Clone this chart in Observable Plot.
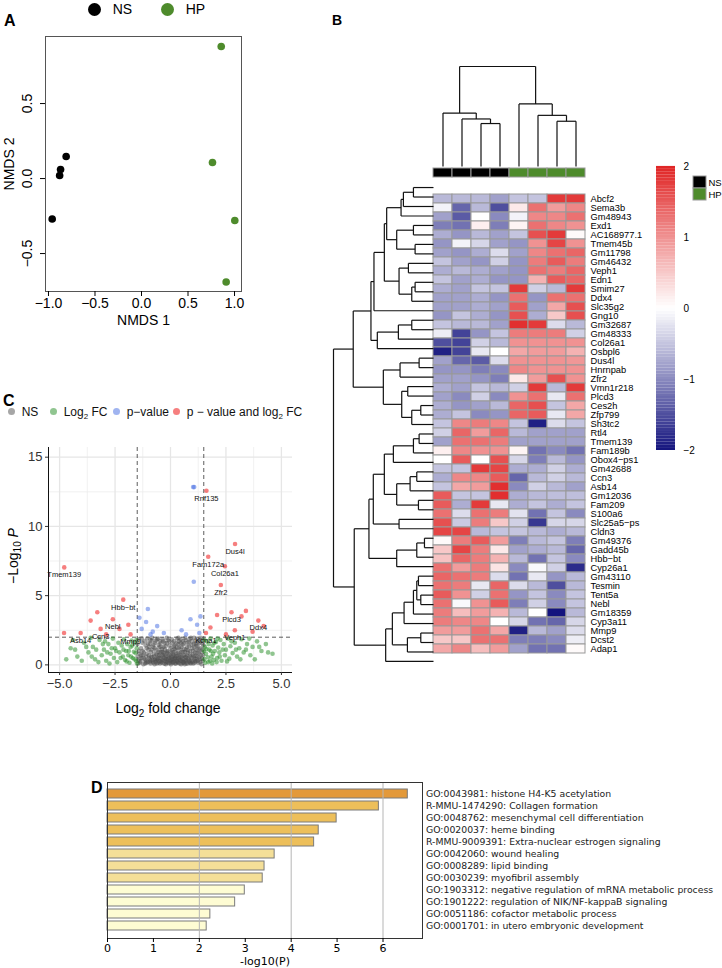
<!DOCTYPE html>
<html><head><meta charset="utf-8">
<script src="https://cdn.jsdelivr.net/npm/d3@7"></script>
<script src="https://cdn.jsdelivr.net/npm/@observablehq/plot@0.6"></script>
<style>
body{margin:0;background:#fff}
#fig{position:relative;width:722px;height:968px;overflow:hidden;font-family:"Liberation Sans",Arial,Helvetica,sans-serif;color:#000}
.abs{position:absolute;white-space:nowrap}
.plab{position:absolute;font-weight:bold;font-size:16px;font-family:"Liberation Sans",Arial,sans-serif}
.rot{position:absolute;white-space:nowrap;transform:translate(-50%,-50%) rotate(-90deg)}
.dot{display:inline-block;border-radius:50%}
</style>
</head><body><div id="fig"></div>
<script>
// ---------- Panel A data (NMDS) ----------
const nmdsGroup = ["NS","NS","NS","NS","HP","HP","HP","HP"];
const nmdsX = [-0.81,-0.87,-0.88,-0.96, 0.857,0.763,1.003,0.91];
const nmdsY = [0.147,0.06,0.02,-0.27, 0.88,0.107,-0.28,-0.69];

// ---------- Panel B data (heatmap) ----------
const samples = ["NS1","NS2","NS3","NS4","HP1","HP2","HP3","HP4"];
const sampleGroup = ["NS","NS","NS","NS","HP","HP","HP","HP"];
const genes = ["Abcf2","Sema3b","Gm48943","Exd1","AC168977.1","Tmem45b","Gm11798","Gm46432","Veph1","Edn1",
"Smim27","Ddx4","Slc35g2","Gng10","Gm32687","Gm48333","Col26a1","Osbpl6","Dus4l","Hnrnpab",
"Zfr2","Vmn1r218","Plcd3","Ces2h","Zfp799","Sh3tc2","Rtl4","Tmem139","Fam189b","Obox4\u2212ps1",
"Gm42688","Ccn3","Asb14","Gm12036","Fam209","S100a6","Slc25a5\u2212ps","Cldn3","Gm49376","Gadd45b",
"Hbb\u2212bt","Cyp26a1","Gm43110","Tesmin","Tent5a","Nebl","Gm18359","Cyp3a11","Mmp9","Dcst2","Adap1"];
const expr = [
[-0.6,-0.6,-0.6,-0.8,-0.5,-0.5,1.8,1.8],
[-0.1,-1.3,-0.6,-1.5,0.2,1.3,0.9,1.1],
[-0.8,-1.4,0.0,-1.0,-0.1,1.1,1.1,1.3],
[-1.1,-1.2,0.15,-1.1,0.1,1.3,1.1,1.0],
[-0.7,-0.9,-0.6,-0.8,-0.5,1.6,1.8,0.05],
[-0.9,-0.1,-0.35,-0.8,-0.9,1.0,1.7,1.0],
[-0.8,-0.9,-0.7,-0.3,-0.8,1.1,1.3,1.4],
[-0.5,-0.8,-0.9,-0.4,-0.9,1.2,1.5,1.2],
[-0.7,-0.6,-0.7,-0.8,-0.9,1.3,1.2,1.4],
[-0.5,-0.8,-0.7,-0.9,-0.9,0.7,1.5,1.4],
[-0.7,-0.8,-0.5,-0.5,1.8,-0.4,-0.6,1.8],
[-0.8,-0.8,-0.7,-0.9,1.3,-0.9,1.3,1.3],
[-0.8,-0.8,-0.7,-0.8,1.5,-0.8,0.8,1.6],
[-0.9,-0.5,-0.7,-0.9,1.6,-0.7,0.5,1.6],
[-0.5,-0.6,-0.6,-0.8,1.9,1.8,-0.3,-0.6],
[-0.15,-1.6,-0.9,-0.5,1.2,1.2,1.2,-0.4],
[-1.5,-1.6,-0.4,-0.6,1.0,1.0,1.0,1.0],
[-1.9,-1.6,-0.2,0.0,0.8,0.9,0.9,0.7],
[-0.8,-1.3,-1.4,-0.3,1.0,1.0,1.0,0.95],
[-0.9,-0.9,-1.1,-1.0,1.1,1.0,1.0,1.0],
[-0.8,-0.8,-0.9,-1.1,0.2,0.9,1.6,1.0],
[-0.7,-0.8,-0.5,-0.6,-0.4,1.8,-0.6,1.8],
[-0.8,-1.0,-0.4,-1.0,1.0,1.3,-0.2,1.3],
[-0.7,-0.9,-0.8,-0.6,1.4,1.6,-0.5,0.8],
[-0.7,-0.5,-1.0,-0.9,1.4,1.5,-0.2,0.8],
[-0.5,1.1,1.2,1.1,-0.5,-1.9,-0.3,-0.5],
[-0.4,1.4,0.9,1.4,-0.6,-0.8,-0.8,-0.8],
[-0.8,1.3,1.3,1.2,-0.8,-0.8,-0.8,-0.8],
[0.15,1.1,1.0,1.0,0.1,-1.2,-1.0,-1.2],
[0.0,1.5,0.0,1.6,-0.35,-1.1,-0.6,-0.9],
[-0.5,-0.5,1.8,1.7,-0.7,-0.7,-0.4,-0.7],
[-0.7,1.1,1.1,1.5,-1.3,-0.6,-0.4,-0.6],
[-0.5,0.8,0.9,1.9,-1.0,-0.4,-0.6,-0.8],
[1.5,-0.5,-0.5,1.9,-0.7,-0.6,-0.55,-0.55],
[1.5,-0.7,1.8,-0.2,-0.7,-0.5,-0.7,-0.5],
[1.3,-0.3,1.3,1.2,-0.25,-1.2,-0.5,-1.0],
[1.6,-0.45,1.2,0.5,-0.4,-1.7,-0.35,-0.35],
[1.7,1.7,-0.6,-0.5,-0.5,-0.6,-0.7,-0.6],
[0.05,1.2,1.5,0.9,-1.1,-0.6,-0.5,-1.1],
[0.5,1.7,1.2,0.2,-0.8,-0.7,-0.6,-1.3],
[0.55,1.4,1.2,0.7,-0.6,-1.2,-0.5,-1.0],
[1.3,0.9,1.2,0.25,-1.0,-0.05,-0.4,-1.8],
[1.4,1.3,1.2,-0.3,-1.2,-0.2,-0.9,-0.6],
[1.3,1.2,-0.2,1.4,-0.3,-0.6,-1.5,-0.6],
[1.5,1.0,-0.4,1.3,-0.9,-0.5,-1.0,-0.5],
[1.3,-0.05,1.0,1.5,-1.1,-0.4,-1.0,-0.5],
[1.2,0.6,0.9,0.7,-0.6,0.0,-2.0,-0.6],
[1.2,1.1,1.1,0.0,-0.35,-1.2,-1.3,-0.35],
[0.9,0.9,1.3,0.8,-1.9,-0.6,-0.8,-0.3],
[0.5,0.5,1.3,1.3,-1.1,-1.1,-1.0,-0.15],
[0.8,1.1,0.6,0.9,-0.8,-1.2,-1.2,0.05]];
// hclust-style merges: negative = leaf (1-based), positive = earlier merge (1-based); third = height
const colMerges = [[-3,-4,131],[-2,1,145],[-1,2,163],[-7,-8,138],[-6,4,156],[-5,5,191],[3,6,305]];
const rowMerges = [
[-3,-4,38],[-2,1,78],[-7,-8,38],[-9,-10,45],[3,4,50],[-6,5,60],[-5,6,88],[2,7,123],[-1,8,143],
[-13,-14,27],[-12,10,50],[-11,11,110],[-15,-16,103],[-17,-18,45],[-20,-21,50],[-19,15,70],[14,16,110],
[-24,-25,43],[-23,18,60],[-22,19,120],[17,20,147],[13,21,180],[12,22,193],[9,23,237],
[-27,-28,38],[-26,25,65],[-29,-30,77],[26,27,95],[-32,-33,43],[-31,29,100],[28,30,150],
[-36,-37,65],[-35,32,105],[-34,33,168],[-40,-41,55],[-39,35,65],[-42,-43,75],[36,37,103],
[-44,-45,55],[-46,-47,60],[39,40,110],[-50,-51,60],[-49,42,90],[-48,43,97],[41,44,140],
[38,45,147],[-38,46,178],[34,47,187],[31,48,240],[24,49,299]];
const legendTicks = [-2,-1,0,1,2];

// ---------- Panel C data (volcano) : [log2FC, -log10 P] ----------
const volcanoPts = [
[-1.45,0.3],[-1.4,0.8],[-1.38,0.15],[-1.33,1.2],[-1.3,0.5],[-1.27,1.6],[-1.22,0.05],[-1.2,0.9],[-1.15,0.35],[-1.12,1.4],
[-1.1,0.6],[-1.05,1.9],[-1.02,0.2],[-1.0,1.1],[-0.97,0.7],[-0.95,0.4],[-0.92,1.5],[-0.9,0.1],[-0.88,0.95],[-0.85,1.75],
[-0.82,0.55],[-0.8,0.25],[-0.78,1.3],[-0.75,0.8],[-0.72,0.05],[-0.7,1.6],[-0.68,0.45],[-0.65,1.05],[-0.62,0.3],[-0.6,1.85],
[-0.58,0.7],[-0.55,0.15],[-0.52,1.25],[-0.5,0.5],[-0.48,0.9],[-0.45,1.55],[-0.42,0.2],[-0.4,0.65],[-0.38,1.15],[-0.35,0.35],
[-0.32,1.7],[-0.3,0.85],[-0.28,0.08],[-0.25,0.45],[-0.22,1.35],[-0.2,0.6],[-0.18,0.25],[-0.15,1.0],[-0.12,0.4],[-0.1,1.8],
[-0.08,0.12],[-0.05,0.75],[-0.03,0.3],[0.0,1.2],[0.02,0.05],[0.05,0.55],[0.08,1.6],[0.1,0.2],[0.12,0.9],[0.15,0.4],
[0.18,1.4],[0.2,0.1],[0.22,0.65],[0.25,1.05],[0.28,0.3],[0.3,1.9],[0.33,0.5],[0.35,0.15],[0.38,1.25],[0.4,0.8],
[0.42,0.35],[0.45,1.6],[0.48,0.05],[0.5,0.95],[0.52,0.45],[0.55,1.45],[0.58,0.2],[0.6,0.7],[0.62,1.15],[0.65,0.3],
[0.68,1.8],[0.7,0.55],[0.72,0.1],[0.75,1.3],[0.78,0.85],[0.8,0.4],[0.82,1.65],[0.85,0.2],[0.88,1.0],[0.9,0.6],
[0.92,1.95],[0.95,0.3],[0.98,1.2],[1.0,0.75],[1.03,0.1],[1.05,1.5],[1.08,0.45],[1.1,0.9],[1.13,1.75],[1.15,0.25],
[1.18,1.1],[1.2,0.6],[1.22,1.4],[1.25,0.15],[1.28,0.85],[1.3,1.85],[1.33,0.4],[1.35,1.2],[1.38,0.7],[1.4,0.05],
[1.43,1.55],[1.46,0.3],[-0.6,0.4],[-0.4,0.3],[-0.2,0.15],[0.1,0.6],[0.3,0.25],[0.5,0.3],[-0.3,0.55],[0.0,0.35],
[0.2,0.45],[-0.1,0.6],[0.4,0.55],[-0.5,0.25],[0.6,0.15],[-0.7,0.35],[0.7,0.35],[-0.9,0.3],[0.9,0.15],[-1.1,0.25],
[1.1,0.3],[0.05,0.9],[-0.15,0.85],[0.25,0.8],[-0.35,0.95],[0.45,1.1],[-0.55,0.95],[0.65,0.95],[0.15,1.3],[-0.25,1.1],
[0.35,1.5],[-0.45,1.3],
[-1.48,0.6],[-1.42,1.0],[-1.35,0.25],[-1.32,0.7],[-1.25,1.0],[-1.18,0.45],[-1.08,0.15],[-1.06,0.8],[-0.98,0.5],[-0.96,1.3],
[-0.93,0.2],[-0.87,0.6],[-0.84,1.1],[-0.81,0.35],[-0.77,0.15],[-0.74,0.6],[-0.71,1.2],[-0.67,0.2],[-0.64,0.75],[-0.61,0.1],
[-0.57,0.45],[-0.54,1.45],[-0.51,0.7],[-0.47,0.1],[-0.44,0.45],[-0.41,0.95],[-0.37,0.15],[-0.34,0.7],[-0.31,1.3],[-0.27,0.3],
[-0.24,0.75],[-0.21,0.05],[-0.19,0.4],[-0.16,1.55],[-0.13,0.2],[-0.11,0.95],[-0.07,0.5],[-0.04,1.4],[-0.01,0.15],[0.01,0.65],
[0.04,0.3],[0.07,1.05],[0.09,0.4],[0.11,0.15],[0.14,0.75],[0.17,0.25],[0.19,1.15],[0.21,0.5],[0.24,0.1],[0.27,0.6],
[0.29,1.25],[0.32,0.2],[0.34,0.85],[0.37,0.45],[0.39,1.7],[0.41,0.1],[0.44,0.7],[0.47,0.3],[0.49,1.3],[0.51,0.6],
[0.54,0.15],[0.57,0.9],[0.59,0.45],[0.61,1.55],[0.64,0.05],[0.67,0.6],[0.69,1.1],[0.71,0.25],[0.74,0.7],[0.77,0.1],
[0.79,1.05],[0.81,0.5],[0.84,1.35],[0.86,0.3],[0.89,0.75],[0.91,0.1],[0.94,1.45],[0.96,0.5],[0.99,0.2],[1.01,1.0],
[1.04,0.6],[1.07,1.25],[1.09,0.15],[1.12,0.65],[1.14,1.55],[1.17,0.4],[1.19,0.85],[1.23,0.3],[1.26,1.15],[1.29,0.55],
[1.32,1.6],[1.34,0.2],[1.37,0.95],[1.41,0.45],[1.44,1.1],[1.47,0.7],[1.49,1.4],[-1.49,1.5],[-1.46,0.1],[-1.43,1.85],
[-1.36,0.45],[-1.29,1.9],[-1.24,0.7],[-1.17,1.7],[-1.14,0.1],[-1.07,1.2],[-1.01,1.55],[-0.91,1.8],[-0.83,1.95],[-0.76,1.45],
[-0.66,1.75],[-0.56,1.9],[-0.46,1.7],[-0.36,1.85],[-0.26,1.6],[-0.17,1.95],[-0.06,1.7],[0.06,1.85],[0.16,1.7],[0.26,1.55],
[0.36,1.95],[0.46,1.85],[0.56,1.7],[0.66,1.95],[0.76,1.6],[0.86,1.85],[0.96,1.7],[1.06,1.95],[1.16,1.4],[1.27,1.7],
[1.36,1.95],[1.45,1.8],
[-4.5,1.2],[-4.2,0.6],[-3.9,1.6],[-3.7,0.9],[-3.5,1.3],[-3.4,0.4],[-3.2,1.8],[-3.1,0.7],[-3.0,1.1],[-2.9,0.3],
[-2.8,1.5],[-2.7,0.8],[-2.6,1.9],[-2.55,0.5],[-2.5,1.2],[-2.4,0.2],[-2.35,1.6],[-2.3,0.9],[-2.2,1.4],[-2.15,0.6],
[-2.1,1.85],[-2.05,0.35],[-2.0,1.0],[-1.95,1.5],[-1.9,0.7],[-1.85,0.15],[-1.8,1.3],[-1.75,1.75],[-1.7,0.5],[-1.65,0.95],
[-1.6,1.6],[-1.55,0.3],[-1.52,1.2],[-3.6,1.95],[-4.4,1.8],[-2.95,1.7],
[-4.7,0.4],[-4.3,1.1],[-4.0,0.3],[-3.8,1.3],[-3.55,0.6],[-3.35,1.1],[-3.25,0.2],[-3.05,1.5],[-2.85,0.9],[-2.75,0.1],
[-2.65,1.2],[-2.45,1.0],[-2.25,0.5],[-2.12,1.1],[-1.98,0.25],[-1.88,1.0],[-1.78,0.6],[-1.72,1.4],[-1.62,0.4],[-1.58,0.85],
[-1.54,1.8],[-1.51,0.1],
[1.52,0.4],[1.55,1.3],[1.6,0.8],[1.65,1.7],[1.7,0.2],[1.75,1.1],[1.8,1.9],[1.85,0.6],[1.9,1.4],[1.95,0.35],
[2.0,1.0],[2.05,1.65],[2.1,0.5],[2.15,1.25],[2.2,0.9],[2.25,1.8],[2.3,0.3],[2.4,1.5],[2.45,0.7],[2.5,1.1],
[2.6,1.9],[2.65,0.45],[2.7,1.35],[2.8,0.85],[2.9,1.6],[3.0,0.6],[3.1,1.2],[3.2,1.85],[3.3,0.9],[3.45,1.5],
[3.6,0.7],[3.7,1.3],[3.9,1.7],[4.1,1.0],[4.3,1.5],[4.6,0.8],
[1.51,1.0],[1.53,1.8],[1.57,0.15],[1.62,1.15],[1.68,0.55],[1.72,1.5],[1.78,0.3],[1.82,1.0],[1.88,0.1],[1.92,0.8],
[1.98,1.6],[2.08,0.2],[2.12,1.9],[2.22,0.6],[2.35,1.1],[2.55,0.25],[2.75,1.7],[2.95,1.1],[3.15,0.4],[3.4,1.1],
[3.55,1.9],[3.8,0.4],[4.0,1.3],[4.4,0.9],
[-1.02,4.04],[-1.3,2.6],[-1.1,3.1],[-0.8,2.4],[-0.6,2.8],[-0.3,2.3],[0.5,2.5],[0.9,3.3],[1.05,6.0],[1.02,12.84],
[1.07,12.84],[1.2,2.9],[1.35,3.5],[0.7,2.2],[-1.4,3.4],[-0.9,2.2],[1.3,2.3],
[-4.79,7.04],[-2.13,4.71],[1.62,12.58],[2.91,8.73],[1.7,7.81],[2.45,7.12],[2.27,5.77],[2.75,3.8],[3.96,3.2],[2.9,2.5],
[-2.6,3.3],[-3.15,2.6],[-4.05,2.3],[-1.8,2.2],[1.6,2.3],[-3.3,3.8],[-3.6,3.2],[-2.3,2.6],[-4.8,2.3],[-1.9,2.9],
[2.1,3.6],[3.2,3.5],[3.4,3.9],[4.2,2.8],[3.7,2.4],[1.8,2.7],[2.5,2.2],[-2.9,2.2]];
const volcanoLabels = [
["Tmem139",-4.79,7.04],["Hbb\u2212bt",-2.13,4.71],["Rnf135",1.62,12.58],["Dus4l",2.91,8.73],["Fam172a",1.7,7.81],
["Col26a1",2.45,7.12],["Zfr2",2.27,5.77],["Plcd3",2.75,3.8],["Ddx4",3.96,3.2],["Veph1",2.9,2.5],
["Nebl",-2.6,3.3],["Ccn3",-3.15,2.6],["Asb14",-4.05,2.3],["Mmp9",-1.8,2.2],["Kcna1",1.6,2.3]];
const fcCut = 1.5, pCut = 2;

// ---------- Panel D data (enrichment) ----------
const goTerms = ["GO:0043981: histone H4-K5 acetylation","R-MMU-1474290: Collagen formation",
"GO:0048762: mesenchymal cell differentiation","GO:0020037: heme binding",
"R-MMU-9009391: Extra-nuclear estrogen signaling","GO:0042060: wound healing","GO:0008289: lipid binding",
"GO:0030239: myofibril assembly","GO:1903312: negative regulation of mRNA metabolic process",
"GO:1901222: regulation of NIK/NF-kappaB signaling","GO:0051186: cofactor metabolic process",
"GO:0001701: in utero embryonic development"];
const goLogP = [6.54,5.91,4.99,4.6,4.5,3.64,3.42,3.38,2.99,2.78,2.24,2.16];

// ---------- helpers ----------
const fig = document.getElementById("fig");
const SANS = '"Liberation Sans", Arial, Helvetica, sans-serif';
const DJV = '"DejaVu Sans", Verdana, sans-serif';
const minus = s => String(s).replace(/-/g, "\u2212");
const fmt1 = d => minus(d.toFixed(1));
function mount(node, left, top) {
  node.style.position = "absolute"; node.style.left = left + "px"; node.style.top = top + "px";
  node.style.maxWidth = "none";
  fig.appendChild(node); return node;
}
function html(cls, left, top, content, extra) {
  const d = document.createElement("div"); d.className = cls;
  d.style.left = left + "px"; d.style.top = top + "px"; d.innerHTML = content;
  if (extra) Object.assign(d.style, extra);
  fig.appendChild(d); return d;
}
function dendro(merges) {
  const nodes = [], segs = [];
  const get = k => k < 0 ? {pos: -k - 1, h: 0} : nodes[k - 1];
  for (const [a, b, h] of merges) {
    const A = get(a), B = get(b);
    segs.push({p1: A.pos, h1: A.h, p2: A.pos, h2: h});
    segs.push({p1: B.pos, h1: B.h, p2: B.pos, h2: h});
    segs.push({p1: A.pos, h1: h, p2: B.pos, h2: h});
    nodes.push({pos: (A.pos + B.pos) / 2, h});
  }
  return segs;
}
const groupColor = {domain: ["NS","HP"], range: ["#000000","#4E8B2C"]};
const heatColor = {type: "linear", domain: [-2, 0, 2], range: ["#14147E", "#FFFFFF", "#E02424"], interpolate: "rgb", clamp: true};
const baseStyle = (font, size) => ({fontFamily: font, fontSize: size, background: "transparent", overflow: "visible", color: "#000"});

// ================= Panel A =================
html("plab", 4, 12, "A");
html("abs", 88, 1, '<span class="dot" style="width:13px;height:13px;background:#000;vertical-align:-2px"></span>&nbsp;&nbsp;&nbsp;NS', {fontSize: "14px"});
html("abs", 161, 1, '<span class="dot" style="width:13px;height:13px;background:#4E8B2C;vertical-align:-2px"></span>&nbsp;&nbsp;&nbsp;HP', {fontSize: "14px"});
const idxA = d3.range(nmdsX.length);
mount(Plot.plot({
  width: 250, height: 310, marginLeft: 45, marginRight: 9, marginTop: 6, marginBottom: 49,
  style: baseStyle(SANS, "14px"),
  x: {domain: [-1.032, 1.075]},
  y: {domain: [-0.753, 0.947]},
  color: groupColor,
  marks: [
    Plot.frame({stroke: "#555"}),
    Plot.axisX({ticks: [-1,-0.5,0,0.5,1], tickSize: 5, tickPadding: 2, tickFormat: fmt1, label: "NMDS 1", labelAnchor: "center", labelArrow: "none", labelOffset: 33}),
    Plot.axisY({ticks: [-0.5,0,0.5], tickSize: 5, tickPadding: 9, tickRotate: -90, tickFormat: fmt1, label: "NMDS 2", labelAnchor: "center", labelArrow: "none", labelOffset: 41}),
    Plot.dot(idxA, {x: i => nmdsX[i], y: i => nmdsY[i], fill: i => nmdsGroup[i], r: 3.8})
  ]
}), 0, 30);

// ================= Panel B =================
html("plab", 332, 12, "B", {fontSize: "14px"});
// column dendrogram
mount(Plot.plot({
  width: 152, height: 110, marginLeft: 0, marginRight: 0, marginTop: 6, marginBottom: 4,
  style: baseStyle(SANS, "10px"),
  x: {domain: [-0.5, 7.5], axis: null}, y: {domain: [0, 305], axis: null},
  marks: [Plot.link(dendro(colMerges), {x1: "p1", y1: "h1", x2: "p2", y2: "h2", stroke: "#111", strokeWidth: 1.2})]
}), 433, 60);
// annotation bar
mount(Plot.plot({
  width: 154, height: 11, marginLeft: 1, marginRight: 1, marginTop: 1, marginBottom: 1,
  style: baseStyle(SANS, "10px"),
  x: {domain: samples, axis: null, padding: 0}, y: {axis: null, padding: 0},
  color: groupColor,
  marks: [Plot.cell(samples, {x: d => d, y: () => "grp", fill: (d, i) => sampleGroup[i], stroke: "#999", strokeWidth: 1, inset: 0})]
}), 432, 167);
// heatmap
const cells = [];
genes.forEach((g, r) => samples.forEach((s, c) => cells.push({gene: g, sample: s, v: expr[r][c]})));
mount(Plot.plot({
  width: 154 + 100, height: 486, marginLeft: 1, marginRight: 101, marginTop: 1, marginBottom: 1.3,
  style: baseStyle(SANS, "9.3px"),
  x: {domain: samples, axis: null, padding: 0},
  y: {domain: genes, padding: 0},
  color: heatColor,
  marks: [
    Plot.cell(cells, {x: "sample", y: "gene", fill: "v", stroke: "#999", strokeWidth: 1, inset: 0}),
    Plot.axisY({anchor: "right", tickSize: 0, tickPadding: 5, fontSize: 9.3, label: null})
  ]
}), 432, 181.3);
// row dendrogram
mount(Plot.plot({
  width: 105, height: 490, marginLeft: 3, marginRight: 2, marginTop: 2.3, marginBottom: 4.3,
  style: baseStyle(SANS, "10px"),
  x: {domain: [0, 299], reverse: true, axis: null}, y: {domain: [-0.5, 50.5], axis: null},
  marks: [Plot.link(dendro(rowMerges), {x1: "h1", y1: "p1", x2: "h2", y2: "p2", stroke: "#111", strokeWidth: 1.2})]
}), 330, 180);
// colour legend
const legendSteps = d3.range(-2, 2, 0.04);
mount(Plot.plot({
  width: 60, height: 300, marginLeft: 6, marginRight: 35, marginTop: 6, marginBottom: 10,
  style: baseStyle(SANS, "10px"),
  x: {domain: [0, 1], axis: null}, y: {domain: [-2, 2], axis: null},
  color: heatColor,
  marks: [
    Plot.rect(legendSteps, {x1: 0, x2: 1, y1: d => d, y2: d => d + 0.041, fill: d => d + 0.02}),
    Plot.text(legendTicks, {x: 1, y: d => d, dx: 8, textAnchor: "start", text: d => minus(d), fontSize: 10})
  ]
}), 650, 160);
// annotation legend
mount(Plot.plot({
  width: 30, height: 40, marginLeft: 3, marginRight: 14, marginTop: 6, marginBottom: 10,
  style: baseStyle(SANS, "9.5px"),
  x: {domain: ["k"], axis: null, padding: 0}, y: {domain: ["NS","HP"], axis: null, padding: 0},
  color: groupColor,
  marks: [
    Plot.cell(["NS","HP"], {x: () => "k", y: d => d, fill: d => d, stroke: "#999", strokeWidth: 1, inset: 0}),
    Plot.text(["NS","HP"], {frameAnchor: "right", y: d => d, dx: 2, textAnchor: "start", text: d => d, fontSize: 9.5})
  ]
}), 690, 170);

// ================= Panel C =================
html("plab", 3, 392, "C");
const legC = [["NS","#4D4D4D",8],["Log<sub style='font-size:8px'>2</sub> FC","#228B22",50],["p\u2212value","#4169E1",113],["p \u2212 value and log<sub style='font-size:8px'>2</sub> FC","#EE0000",173]];
for (const [t, c, x] of legC) {
  html("abs", x, 405, `<span class="dot" style="width:7px;height:7px;background:${c};opacity:0.5;vertical-align:1px"></span>&nbsp;&nbsp;${t}`, {fontSize: "12px", color: "#111"});
}
const cat = d => Math.abs(d[0]) > fcCut ? (d[1] > pCut ? "both" : "fc") : (d[1] > pCut ? "p" : "ns");
mount(Plot.plot({
  width: 300, height: 280, marginLeft: 48, marginRight: 8, marginTop: 7, marginBottom: 48,
  style: baseStyle(SANS, "13px"),
  x: {domain: [-5.5, 5.5]}, y: {domain: [-0.55, 15.7]},
  color: {domain: ["ns","fc","p","both"], range: ["#4D4D4D","#228B22","#4169E1","#EE0000"]},
  marks: [
    Plot.gridX([-3.75,-1.25,1.25,3.75], {stroke: "#eeeeee", strokeOpacity: 1, strokeWidth: 0.8}),
    Plot.gridY([2.5,7.5,12.5], {stroke: "#eeeeee", strokeOpacity: 1, strokeWidth: 0.8}),
    Plot.gridX([-5,-2.5,0,2.5,5], {stroke: "#e6e6e6", strokeOpacity: 1, strokeWidth: 1.3}),
    Plot.gridY([0,5,10,15], {stroke: "#e6e6e6", strokeOpacity: 1, strokeWidth: 1.3}),
    Plot.ruleX([-fcCut, fcCut], {stroke: "#333", strokeDasharray: "4,3", strokeWidth: 0.8}),
    Plot.ruleY([pCut], {stroke: "#333", strokeDasharray: "4,3", strokeWidth: 0.8}),
    Plot.dot(volcanoPts, {x: d => d[0], y: d => d[1], fill: cat, fillOpacity: 0.5, r: 2.3}),
    Plot.text(volcanoLabels, {x: d => d[1], y: d => d[2], text: d => d[0], dy: 7.5, fontSize: 7.5, fill: "#111"}),
    Plot.ruleX([-5.5], {stroke: "#111", strokeWidth: 1}),
    Plot.ruleY([-0.55], {stroke: "#111", strokeWidth: 1}),
    Plot.axisX({ticks: [-5,-2.5,0,2.5,5], tickFormat: fmt1, tickSize: 3, tickPadding: 3, label: null, color: "#333"}),
    Plot.axisY({ticks: [0,5,10,15], tickSize: 3, tickPadding: 3, label: null, color: "#333"})
  ]
}), 0, 440);
html("rot", 14, 556, "\u2212Log<sub style='font-size:10px'>10</sub> <i>P</i>", {fontSize: "14px"});
html("abs", 168, 700, "Log<sub style='font-size:10px'>2</sub> fold change", {fontSize: "14px", transform: "translateX(-50%)"});

// ================= Panel D =================
html("plab", 91, 779, "D");
const goRows = goTerms.map((t, i) => ({term: t, v: goLogP[i]}));
mount(Plot.plot({
  width: 722, height: 198, marginLeft: 107, marginRight: 300, marginTop: 12, marginBottom: 30,
  style: baseStyle(DJV, "11px"),
  x: {domain: [0, 6.86]},
  y: {domain: goTerms, paddingInner: 0.22, paddingOuter: 0.61, axis: null},
  color: {type: "threshold", domain: [3, 4, 6], range: ["#FEFCD3","#F4DF98","#EDBF5A","#E3993A"]},
  marks: [
    Plot.barX(goRows, {x: "v", y: "term", fill: "v", stroke: "#7a7a7a", strokeWidth: 1}),
    Plot.ruleX([2, 4, 6], {stroke: "#b5b5b5", strokeWidth: 1}),
    Plot.frame({stroke: "#333"}),
    Plot.axisX({ticks: [0,1,2,3,4,5,6], tickFormat: d => String(d), tickSize: 4, tickPadding: 2, label: "-log10(P)", labelAnchor: "center", labelArrow: "none", labelOffset: 26}),
    Plot.text(goRows, {y: "term", frameAnchor: "right", dx: 3.5, textAnchor: "start", text: "term", fontSize: 9.3, fill: "#222"})
  ]
}), 0, 770);
</script></body></html>
